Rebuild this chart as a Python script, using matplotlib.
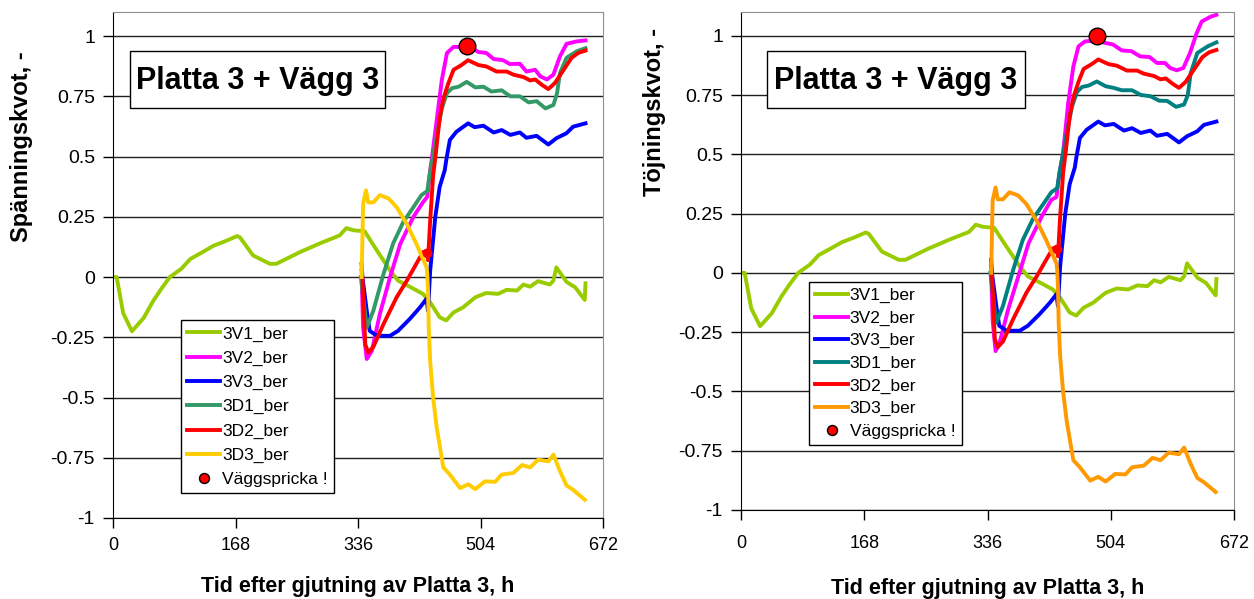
import matplotlib
matplotlib.use("Agg")
import matplotlib.pyplot as plt
from matplotlib.patches import Rectangle

plt.rcParams['font.family'] = ['Liberation Sans', 'DejaVu Sans']

# --- data (hours after casting, ratio) ---
t_3v1 = [0, 5, 14, 26, 42, 55, 66, 78, 94, 106, 119, 138, 155, 170, 174, 192, 215, 224,
         256, 284, 311, 320, 330, 345, 362, 380, 391, 410, 425, 435, 448, 457, 467, 480,
         497, 512, 528, 540, 554, 563, 572, 583, 599, 604, 608, 622, 634, 647, 648]
v_3v1 = [0, 0, -0.15, -0.225, -0.17, -0.10, -0.05, 0, 0.035, 0.075, 0.097, 0.13, 0.15, 0.17,
         0.165, 0.09, 0.055, 0.055, 0.103, 0.14, 0.173, 0.203, 0.194, 0.19, 0.11, 0.027,
         -0.015, -0.045, -0.07, -0.105, -0.167, -0.18, -0.147, -0.126, -0.084, -0.066,
         -0.07, -0.053, -0.056, -0.031, -0.04, -0.017, -0.031, -0.015, 0.04, -0.02, -0.043,
         -0.095, -0.026]

t_3v2 = [341, 343, 348, 355, 366, 380, 394, 412, 425, 431, 435, 437, 444, 451, 458, 467,
         480, 490, 501, 512, 522, 535, 544, 558, 567, 579, 586, 595, 604, 613, 622, 636, 648]
v_3v2_sp = [0, -0.21, -0.34, -0.306, -0.153, 0, 0.138, 0.25, 0.31, 0.333, 0.444, 0.485,
            0.652, 0.819, 0.93, 0.955, 0.955, 0.955, 0.934, 0.93, 0.905, 0.9, 0.884, 0.885,
            0.853, 0.86, 0.833, 0.82, 0.84, 0.916, 0.968, 0.978, 0.982]

t_3v2_tj = [341, 343, 347, 352, 364, 378, 392, 410, 423, 430, 434, 439, 446, 453, 460, 469,
            485, 496, 507, 519, 532, 544, 557, 567, 578, 585, 594, 603, 612, 621, 628, 640, 648]
v_3v2_tj = [0, -0.2, -0.33, -0.30, -0.156, -0.015, 0.125, 0.238, 0.308, 0.32, 0.42, 0.505,
            0.716, 0.87, 0.955, 0.976, 0.98, 0.97, 0.963, 0.938, 0.935, 0.913, 0.91, 0.885,
            0.885, 0.864, 0.854, 0.864, 0.927, 1.01, 1.06, 1.08, 1.088]

t_3v3 = [341, 342, 348, 352, 362, 380, 391, 407, 421, 430, 432, 435, 442, 448, 455, 457,
         462, 471, 487, 496, 508, 522, 533, 545, 558, 567, 581, 597, 608, 622, 631, 648]
v_3v3 = [0.055, 0, -0.14, -0.223, -0.244, -0.244, -0.223, -0.174, -0.126, -0.09, -0.14,
         0.027, 0.25, 0.374, 0.444, 0.485, 0.569, 0.603, 0.638, 0.622, 0.628, 0.6, 0.61,
         0.59, 0.6, 0.578, 0.586, 0.55, 0.576, 0.597, 0.624, 0.638]

t_3d1 = [340, 348, 357, 371, 384, 398, 412, 423, 431, 434, 440, 446, 451, 458, 465, 474,
         485, 497, 508, 519, 533, 545, 558, 570, 581, 593, 604, 609, 613, 622, 636, 648]
v_3d1_sp = [0, -0.21, -0.14, 0.013, 0.138, 0.228, 0.29, 0.34, 0.357, 0.42, 0.52, 0.62,
            0.70, 0.763, 0.784, 0.79, 0.81, 0.787, 0.79, 0.77, 0.775, 0.75, 0.75, 0.725,
            0.73, 0.7, 0.714, 0.763, 0.847, 0.91, 0.937, 0.95]
v_3d1_tj = [0, -0.21, -0.14, 0.013, 0.138, 0.228, 0.29, 0.34, 0.357, 0.42, 0.52, 0.62,
            0.70, 0.763, 0.784, 0.79, 0.807, 0.787, 0.78, 0.77, 0.77, 0.75, 0.745, 0.726,
            0.725, 0.7, 0.71, 0.75, 0.843, 0.927, 0.955, 0.972]

t_3d2 = [341, 342, 346, 350, 357, 371, 389, 403, 416, 425, 431, 432, 435, 439, 443, 448,
         453, 460, 467, 478, 487, 501, 512, 526, 540, 549, 563, 572, 579, 588, 597, 606,
         618, 629, 638, 648]
v_3d2 = [0.027, 0, -0.28, -0.313, -0.29, -0.195, -0.084, -0.015, 0.055, 0.103, 0.11, 0.07,
         0.235, 0.42, 0.52, 0.66, 0.74, 0.805, 0.86, 0.88, 0.9, 0.88, 0.874, 0.853, 0.853,
         0.84, 0.83, 0.816, 0.82, 0.798, 0.78, 0.805, 0.86, 0.91, 0.93, 0.94]

t_3d3 = [341, 343, 347, 350, 357, 366, 378, 389, 403, 416, 430, 431, 432, 433, 435, 439,
         444, 453, 462, 476, 487, 497, 510, 524, 533, 549, 561, 572, 583, 597, 604, 613,
         622, 631, 647]
v_3d3 = [0, 0.305, 0.36, 0.31, 0.31, 0.34, 0.326, 0.29, 0.22, 0.138, 0.04, 0.013, -0.056,
         -0.21, -0.35, -0.5, -0.626, -0.79, -0.82, -0.876, -0.86, -0.88, -0.848, -0.85,
         -0.82, -0.813, -0.78, -0.79, -0.758, -0.765, -0.737, -0.806, -0.865, -0.883, -0.924]

# crack point (Väggspricka) and the small red dot on 3D2
crack_t = [485]
crack_sp = [0.96]
crack_tj = [1.0]
dot_t = [431]
dot_v = [0.10]

x_ticks = [0, 168, 336, 504, 672]
y_ticks = [-1, -0.75, -0.5, -0.25, 0, 0.25, 0.5, 0.75, 1]
names = ["3V1_ber", "3V2_ber", "3V3_ber", "3D1_ber", "3D2_ber", "3D3_ber"]


def draw(ax, v3v2, t3v2, v3d1, c_d1, c_d3, crack_v, ylabel, ylab_pos, leg_pos, leg_sp,
         xpad, box, box_txt):
    series = [
        (t_3v1, v_3v1, "#99CC00"),
        (t3v2, v3v2, "#FF00FF"),
        (t_3v3, v_3v3, "#0000FF"),
        (t_3d1, v3d1, c_d1),
        (t_3d2, v_3d2, "#FF0000"),
        (t_3d3, v_3d3, c_d3),
    ]
    for (t, v, c), name in zip(series, names):
        ax.plot(t, v, color=c, lw=2.8, label=name, solid_joinstyle='round')
    ax.plot(dot_t, dot_v, 'o', color='#FF0000', ms=6)
    ax.plot(crack_t, crack_v, 'o', ms=12, mfc='#FF0000', mec='black', mew=1,
            ls='none', label="Väggspricka !")

    ax.set_xlim(0, 672)
    ax.set_ylim(-1, 1.1)
    ax.set_xticks(x_ticks)
    ax.set_yticks(y_ticks)
    ax.set_yticklabels(["%g" % y for y in y_ticks])
    ax.grid(axis='y', color='#202020', lw=1)
    ax.set_axisbelow(True)
    for s in ['top', 'right']:
        ax.spines[s].set_color('#909090')
    for s in ['left', 'bottom']:
        ax.spines[s].set_color('black')
    ax.tick_params(axis='x', direction='out', length=7, width=1, labelsize=13, pad=xpad)
    ax.tick_params(axis='y', direction='out', length=7, width=1, labelsize=14, pad=6)

    ax.set_xlabel("Tid efter gjutning av Platta 3, h", fontsize=15.5, fontweight='bold')
    ax.xaxis.label.set_va('center')
    ax.set_ylabel(ylabel, fontsize=17, fontweight='bold')
    ax.yaxis.label.set_va('center')
    ax.yaxis.set_label_coords(*ylab_pos)

    ax.add_patch(Rectangle(box[:2], box[2], box[3], transform=ax.transAxes,
                           fc='white', ec='black', lw=1, zorder=5))
    ax.text(box_txt[0], box_txt[1], "Platta 3 + Vägg 3", transform=ax.transAxes,
            fontsize=22, fontweight='bold', ha='center', va='center', zorder=6)

    leg = ax.legend(loc='upper left', bbox_to_anchor=leg_pos, borderaxespad=0,
                    fontsize=12.5, frameon=True, fancybox=False, framealpha=1,
                    edgecolor='black', handlelength=1.9, handletextpad=0.1,
                    labelspacing=leg_sp, markerscale=0.6, borderpad=0.35)
    leg.get_frame().set_linewidth(1)


fig = plt.figure(figsize=(12.54, 5.99), dpi=100)
ax1 = fig.add_axes([113 / 1254, 81 / 599, 490 / 1254, 506 / 599])
ax2 = fig.add_axes([741 / 1254, 89 / 599, 493 / 1254, 498 / 599])

draw(ax1, v_3v2_sp, t_3v2, v_3d1_sp, "#339966", "#FFCC00", crack_sp,
     "Spänningskvot, -", (-0.186, 0.733), (0.139, 0.391), 0.52, 7,
     (0.0347, 0.810, 0.520, 0.1126), (0.295, 0.864))
ax1.xaxis.set_label_coords(0.5, -0.136)
draw(ax2, v_3v2_tj, t_3v2_tj, v_3d1_tj, "#008080", "#FF9900", crack_tj,
     "Töjningskvot, -", (-0.176, 0.799), (0.138, 0.458), 0.42, 11,
     (0.0527, 0.807, 0.523, 0.1145), (0.314, 0.862))
ax2.xaxis.set_label_coords(0.5, -0.157)

fig.savefig("out.png", dpi=100)
